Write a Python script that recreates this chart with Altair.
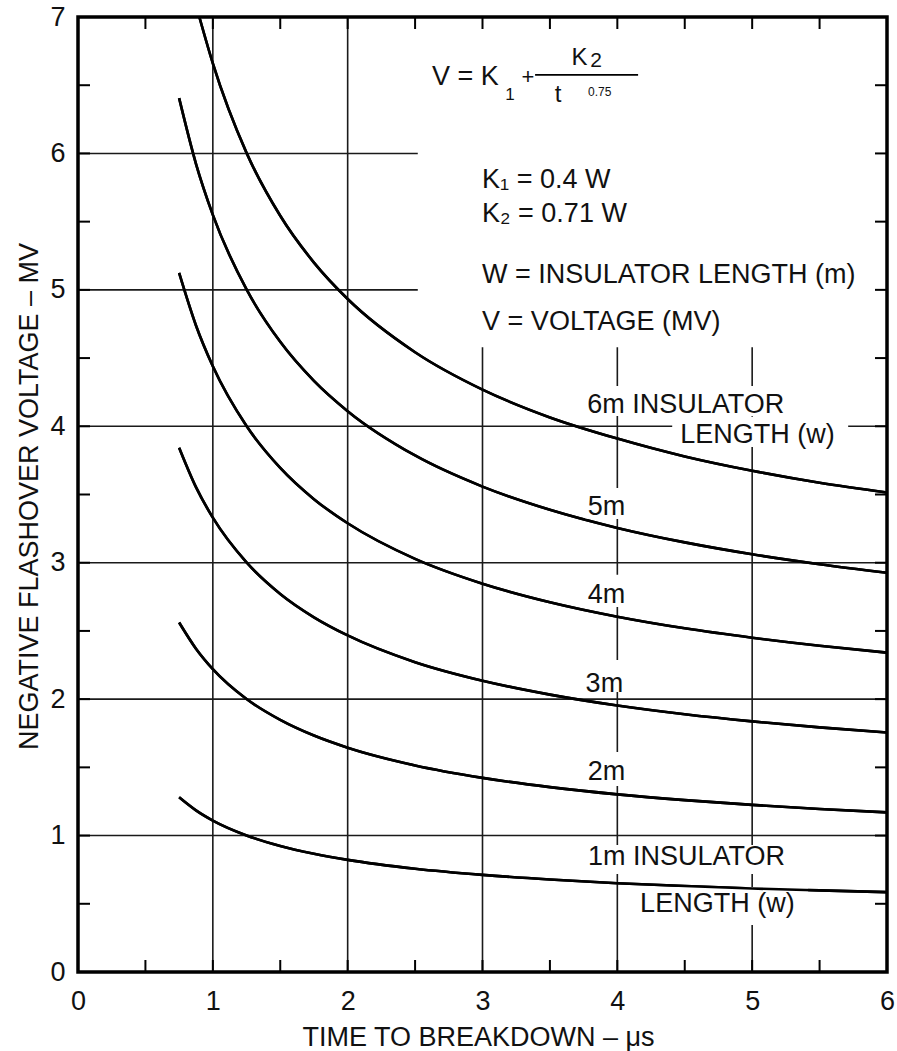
import altair as alt
import pandas as pd

# ---- data ----
t_vals = [0.75, 0.875, 1.0, 1.25, 1.5, 1.75, 2.0, 2.5, 3.0, 3.5, 4.0, 4.5, 5.0, 5.5, 6.0]
v_1m = [1.281, 1.185, 1.110, 1.001, 0.924, 0.867, 0.822, 0.757, 0.712, 0.678, 0.651, 0.630, 0.612, 0.598, 0.585]
v_2m = [2.562, 2.370, 2.220, 2.001, 1.848, 1.733, 1.644, 1.514, 1.423, 1.355, 1.302, 1.260, 1.225, 1.195, 1.170]
v_3m = [3.843, 3.554, 3.330, 3.002, 2.771, 2.600, 2.467, 2.271, 2.135, 2.033, 1.953, 1.889, 1.837, 1.793, 1.756]
v_4m = [5.124, 4.739, 4.440, 4.002, 3.695, 3.466, 3.289, 3.028, 2.846, 2.710, 2.604, 2.519, 2.450, 2.391, 2.341]
v_5m = [6.405, 5.924, 5.550, 5.003, 4.619, 4.333, 4.111, 3.786, 3.558, 3.388, 3.255, 3.149, 3.062, 2.989, 2.926]
t_6m = [0.9, 1.0, 1.25, 1.5, 1.75, 2.0, 2.5, 3.0, 3.5, 4.0, 4.5, 5.0, 5.5, 6.0]
v_6m = [7.00, 6.660, 6.004, 5.543, 5.200, 4.933, 4.543, 4.269, 4.065, 3.910, 3.779, 3.674, 3.586, 3.515]

x_ticks = [0, 1, 2, 3, 4, 5, 6]
y_ticks = [0, 1, 2, 3, 4, 5, 6, 7]
minor_x = [0.5, 1.0, 1.5, 2.0, 2.5, 3.0, 3.5, 4.0, 4.5, 5.0, 5.5]
minor_y = [0.5, 1.0, 1.5, 2.0, 2.5, 3.0, 3.5, 4.0, 4.5, 5.0, 5.5, 6.0, 6.5]

# grid segments (partial grid as drawn)
grid_x1 = [1, 2, 3, 4, 5, 0, 0, 0, 0, 0, 0]
grid_x2 = [1, 2, 3, 4, 5, 2.52, 2.52, 6, 6, 6, 6]
grid_y1 = [0, 0, 0, 0, 0, 6, 5, 4, 3, 2, 1]
grid_y2 = [7, 7, 4.58, 4.58, 4.58, 6, 5, 4, 3, 2, 1]

# white boxes behind curve labels (gaps in grid)
box_x1 = [3.746, 4.407, 3.761, 3.761, 3.761, 3.761, 3.754, 4.139]
box_x2 = [5.342, 5.712, 4.080, 4.080, 4.080, 4.080, 5.300, 5.415]
box_y1 = [4.296, 4.069, 3.548, 2.911, 2.287, 1.613, 0.931, 0.623]
box_y2 = [4.076, 3.849, 3.321, 2.676, 2.053, 1.364, 0.718, 0.345]

# annotations
left_text = ["V = K", "1", "+", "K", "2", "0.75",
             "K\u2081 = 0.4  W", "K\u2082 = 0.71  W", "W = INSULATOR LENGTH (m)", "V  = VOLTAGE (MV)",
             "6m  INSULATOR", "LENGTH (w)", "1m  INSULATOR", "LENGTH (w)"]
left_x = [2.626, 3.168, 3.290, 3.660, 3.800, 3.783,
          2.997, 2.997, 2.997, 2.997,
          3.776, 4.466, 3.783, 4.169]
left_y = [6.503, 6.393, 6.510, 6.650, 6.630, 6.422,
          5.748, 5.499, 5.051, 4.707,
          4.098, 3.878, 0.784, 0.440]
left_fs = [27, 17, 22, 24, 21, 12,
           27, 27, 27, 27,
           27, 27, 27, 27]

right_text = ["5m", "4m", "3m", "2m"]
right_x = [4.058, 4.058, 4.043, 4.058]
right_y = [3.350, 2.705, 2.053, 1.408]

center_text = ["t"]
center_x = [3.561]
center_y = [6.378]

frac_x1 = [3.390]
frac_x2 = [4.154]
frac_y = [6.576]

W = 809
H = 955
FONT = "Liberation Sans, Arial, Helvetica, sans-serif"

rows = []
for name, ts, vs in [("1m", t_vals, v_1m), ("2m", t_vals, v_2m), ("3m", t_vals, v_3m),
                     ("4m", t_vals, v_4m), ("5m", t_vals, v_5m), ("6m", t_6m, v_6m)]:
    for t, v in zip(ts, vs):
        rows.append({"w": name, "t": t, "v": v})
curves_df = pd.DataFrame(rows)

xs = alt.Scale(domain=[0, 6], nice=False, zero=False)
ys = alt.Scale(domain=[0, 7], nice=False, zero=False)

XT = "TIME TO BREAKDOWN \u2013 \u03bcs"
YT = "NEGATIVE FLASHOVER VOLTAGE \u2013 MV"
xaxis = alt.Axis(values=x_ticks, title=XT, grid=False, labelFlush=False,
                 ticks=False, domain=False, labelPadding=16, labelBaseline="top",
                 titleX=400, titleY=73, titleAlign="center", titleBaseline="alphabetic")
yaxis = alt.Axis(values=y_ticks, title=YT, grid=False, labelFlush=False,
                 ticks=False, domain=False, labelPadding=13,
                 titleX=-41, titleY=479, titleAngle=270, titleAlign="center",
                 titleBaseline="alphabetic")


def X(field):
    return alt.X(field, scale=xs, axis=xaxis, title=XT)


def Y(field):
    return alt.Y(field, scale=ys, axis=yaxis, title=YT)


grid_df = pd.DataFrame({"x1": grid_x1, "x2": grid_x2, "y1": grid_y1, "y2": grid_y2})
grid = alt.Chart(grid_df).mark_rule(color="#1a1a1a", strokeWidth=1.6).encode(
    x=X("x1:Q"), x2="x2:Q", y=Y("y1:Q"), y2="y2:Q")

box_df = pd.DataFrame({"x1": box_x1, "x2": box_x2, "y1": box_y1, "y2": box_y2})
boxes = alt.Chart(box_df).mark_rect(fill="white").encode(
    x=X("x1:Q"), x2="x2:Q", y=Y("y1:Q"), y2="y2:Q")

curves = alt.Chart(curves_df).mark_line(color="black", strokeWidth=2.6, interpolate="monotone").encode(
    x=X("t:Q"), y=Y("v:Q"), detail="w:N")

mx_df = pd.DataFrame({"t": minor_x})
my_df = pd.DataFrame({"v": minor_y})
tick_bottom = alt.Chart(mx_df).mark_rule(color="black", strokeWidth=2).encode(
    x=X("t:Q"), y=alt.value(H), y2=alt.value(H - 12))
tick_top = alt.Chart(mx_df).mark_rule(color="black", strokeWidth=2).encode(
    x=X("t:Q"), y=alt.value(0), y2=alt.value(12))
tick_left = alt.Chart(my_df).mark_rule(color="black", strokeWidth=2).encode(
    y=Y("v:Q"), x=alt.value(0), x2=alt.value(12))
tick_right = alt.Chart(my_df).mark_rule(color="black", strokeWidth=2).encode(
    y=Y("v:Q"), x=alt.value(W), x2=alt.value(W - 12))

frac_df = pd.DataFrame({"x1": frac_x1, "x2": frac_x2, "y": frac_y})
frac = alt.Chart(frac_df).mark_rule(color="black", strokeWidth=1.6).encode(
    x=X("x1:Q"), x2="x2:Q", y=Y("y:Q"))

lt_df = pd.DataFrame({"label": left_text, "x": left_x, "y": left_y, "fs": left_fs})
txt_left = alt.Chart(lt_df).mark_text(align="left", baseline="alphabetic", font=FONT, color="#111").encode(
    x=X("x:Q"), y=Y("y:Q"), text="label:N", size=alt.Size("fs:Q", scale=None))

rt_df = pd.DataFrame({"label": right_text, "x": right_x, "y": right_y})
txt_right = alt.Chart(rt_df).mark_text(align="right", baseline="alphabetic", font=FONT, color="#111",
                                       fontSize=27).encode(
    x=X("x:Q"), y=Y("y:Q"), text="label:N")

ct_df = pd.DataFrame({"label": center_text, "x": center_x, "y": center_y})
txt_center = alt.Chart(ct_df).mark_text(align="center", baseline="alphabetic", font=FONT, color="#111",
                                        fontSize=24).encode(
    x=X("x:Q"), y=Y("y:Q"), text="label:N")

chart = alt.layer(
    curves, grid, boxes, curves, tick_bottom, tick_top, tick_left, tick_right, frac,
    txt_left, txt_right, txt_center
).properties(
    width=W, height=H,
    autosize=alt.AutoSizeParams(type="none"),
    padding={"left": 78, "top": 17, "right": 10, "bottom": 79},
    background="white",
).configure_view(
    stroke="black", strokeWidth=3.5
).configure_axis(
    labelFont=FONT, labelFontSize=27, labelColor="#111",
    titleFont=FONT, titleFontSize=27, titleFontWeight="normal", titleColor="#111"
)

chart.save("out.html", embed_options={"renderer": "svg", "actions": False})
